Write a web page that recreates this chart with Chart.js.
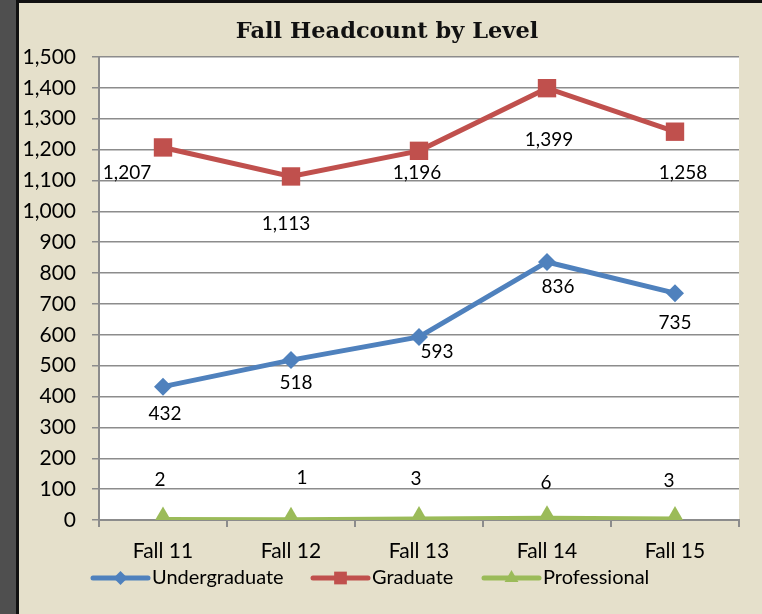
<!DOCTYPE html>
<html>
<head>
<meta charset="utf-8">
<script src="https://cdn.jsdelivr.net/npm/chart.js@4/dist/chart.umd.min.js"></script>
<style>
  html, body { margin: 0; padding: 0; background: #e5e0cb; }
  #wrap { width: 762px; height: 614px; position: relative; }
</style>
</head>
<body>
<div id="wrap"><canvas id="headcountChart" width="762" height="614"></canvas></div>
<script>
const terms = ["Fall 11", "Fall 12", "Fall 13", "Fall 14", "Fall 15"];
const undergraduate = [432, 518, 593, 836, 735];
const graduate = [1207, 1113, 1196, 1399, 1258];
const professional = [2, 1, 3, 6, 3];
const yTicks = [0, 100, 200, 300, 400, 500, 600, 700, 800, 900, 1000, 1100, 1200, 1300, 1400, 1500];
const chartTitle = "Fall Headcount by Level";

const FONT = "Lato, 'Open Sans', sans-serif";

// pixel offsets of each value label from its point
const labelOffsets = [
  [[2, 27], [5, 23], [18, 15], [11, 25], [0, 30]],
  [[-36, 25], [-5, 47], [-2, 22], [2, 52], [8, 41]],
  [[-3, -40], [11, -42], [-3, -40], [-1, -35], [-6, -38]]
];

const framePlugin = {
  id: "frame",
  beforeDraw(chart) {
    const ctx = chart.ctx;
    const { left, top, right, bottom } = chart.chartArea;
    ctx.save();
    ctx.fillStyle = "#e5e0cb";
    ctx.fillRect(0, 0, chart.width, chart.height);
    ctx.fillStyle = "#4f4f4f";
    ctx.fillRect(0, 0, 16, chart.height);
    ctx.fillStyle = "#111";
    ctx.fillRect(16, 0, 3, chart.height);
    ctx.fillRect(16, 0, chart.width, 3);
    ctx.fillStyle = "#ffffff";
    ctx.fillRect(left, top, right - left, bottom - top);
    // title
    ctx.fillStyle = "#111";
    ctx.font = "bold 22.5px 'DejaVu Serif', serif";
    ctx.textAlign = "center";
    ctx.textBaseline = "middle";
    ctx.fillText(chartTitle, 387, 32);
    ctx.restore();
  }
};

const valueLabelPlugin = {
  id: "valueLabels",
  afterDatasetsDraw(chart) {
    const ctx = chart.ctx;
    ctx.save();
    ctx.font = "19px " + FONT;
    ctx.fillStyle = "#000";
    ctx.textAlign = "center";
    ctx.textBaseline = "middle";
    chart.data.datasets.forEach((ds, i) => {
      chart.getDatasetMeta(i).data.forEach((pt, j) => {
        const off = labelOffsets[i][j];
        ctx.fillText(ds.data[j].toLocaleString("en-US"), pt.x + off[0], pt.y + off[1]);
      });
    });
    ctx.restore();
  }
};

const legendPlugin = {
  id: "lineLegend",
  afterDraw(chart) {
    const ctx = chart.ctx;
    const starts = [93, 313, 484];
    const y = 578;
    ctx.save();
    ctx.font = "20px " + FONT;
    ctx.textBaseline = "middle";
    ctx.textAlign = "left";
    chart.data.datasets.forEach((ds, i) => {
      const x = starts[i];
      ctx.strokeStyle = ds.borderColor;
      ctx.lineWidth = 5;
      ctx.lineCap = "round";
      ctx.beginPath();
      ctx.moveTo(x, y);
      ctx.lineTo(x + 55, y);
      ctx.stroke();
      ctx.fillStyle = ds.borderColor;
      Chart.helpers.drawPoint(ctx, {
        pointStyle: ds.pointStyle,
        radius: ds.legendRadius,
        borderWidth: 0
      }, x + 27.5, y);
      ctx.fillStyle = "#000";
      ctx.fillText(ds.label, x + 59, y);
    });
    ctx.restore();
  }
};

new Chart(document.getElementById("headcountChart"), {
  type: "line",
  data: {
    labels: terms,
    datasets: [
      {
        label: "Undergraduate",
        data: undergraduate,
        borderColor: "#4f81bd",
        backgroundColor: "#4f81bd",
        borderWidth: 5,
        pointStyle: "rectRot",
        pointRadius: 9,
        pointBorderWidth: 0,
        legendRadius: 7
      },
      {
        label: "Graduate",
        data: graduate,
        borderColor: "#c0504d",
        backgroundColor: "#c0504d",
        borderWidth: 5,
        pointStyle: "rect",
        pointRadius: 13,
        pointBorderWidth: 0,
        legendRadius: 9
      },
      {
        label: "Professional",
        data: professional,
        borderColor: "#9bbb59",
        backgroundColor: "#9bbb59",
        borderWidth: 5,
        pointStyle: "triangle",
        pointRadius: 13,
        pointBorderWidth: 0,
        legendRadius: 8
      }
    ]
  },
  options: {
    responsive: false,
    animation: false,
    layout: { padding: { left: 19, right: 23, top: 57, bottom: 54 } },
    plugins: {
      legend: { display: false },
      tooltip: { enabled: false },
      title: { display: false }
    },
    scales: {
      x: {
        offset: true,
        afterFit: (scale) => { scale.height = 40; },
        grid: { display: true, drawOnChartArea: false, drawTicks: true, tickLength: 7, offset: true, color: "#8c8c8c", lineWidth: 2 },
        border: { display: true, color: "#8c8c8c", width: 2 },
        ticks: { color: "#000", font: { family: FONT, size: 21 }, padding: 12 }
      },
      y: {
        min: 0,
        max: 1500,
        afterBuildTicks: (scale) => { scale.ticks = yTicks.map((v) => ({ value: v })); },
        afterFit: (scale) => { scale.width = 80; },
        grid: { color: "#8c8c8c", lineWidth: 1.5, tickLength: 7 },
        border: { display: true, color: "#8c8c8c", width: 2 },
        ticks: {
          color: "#000",
          font: { family: FONT, size: 21 },
          padding: 16,
          callback: (v) => v.toLocaleString("en-US")
        }
      }
    }
  },
  plugins: [framePlugin, valueLabelPlugin, legendPlugin]
});
</script>
</body>
</html>
